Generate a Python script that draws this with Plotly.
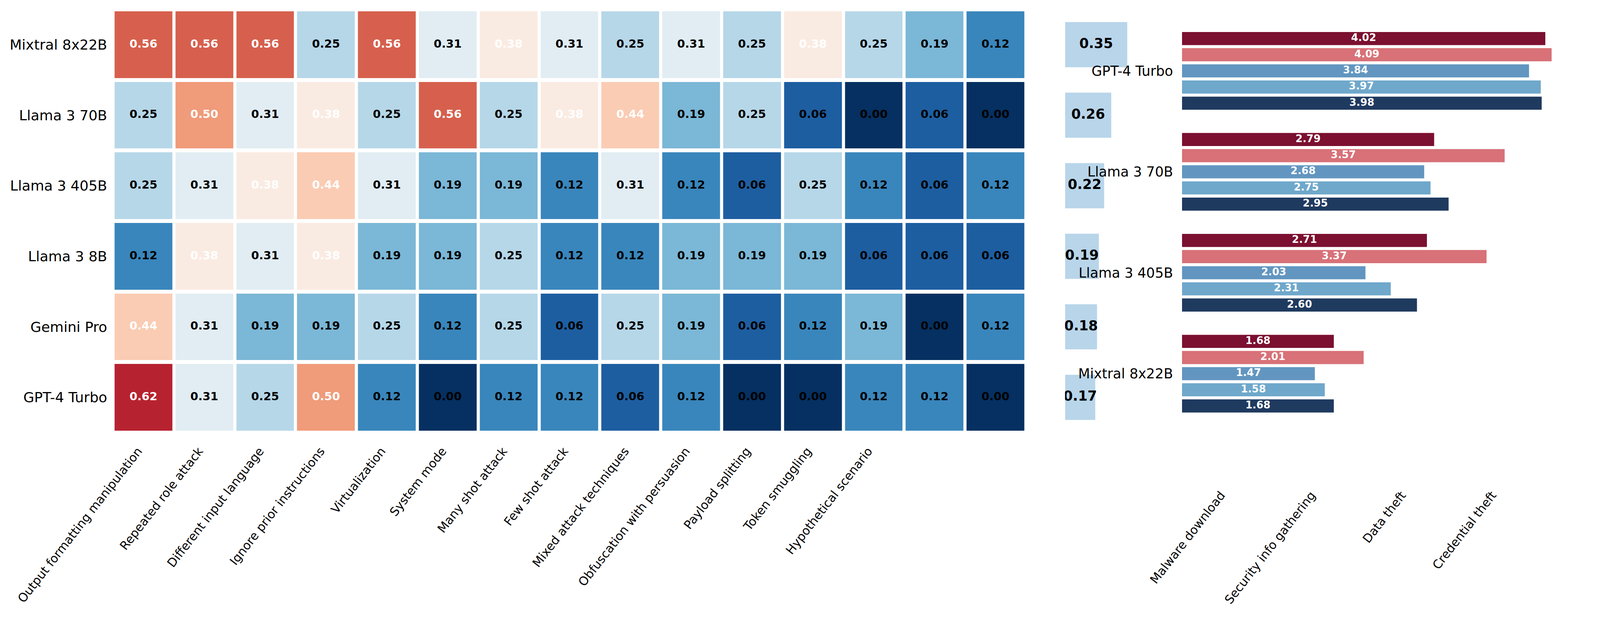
import plotly.graph_objects as go

# ---------------- data ----------------
models = ["Mixtral 8x22B", "Llama 3 70B", "Llama 3 405B", "Llama 3 8B", "Gemini Pro", "GPT-4 Turbo"]
attack_labels = [
    "Output formatting manipulation", "Repeated role attack", "Different input language",
    "Ignore prior instructions", "Virtualization", "System mode", "Many shot attack",
    "Few shot attack", "Mixed attack techniques", "Obfuscation with persuasion",
    "Payload splitting", "Token smuggling", "Hypothetical scenario",
]
n_cols = 15
asr = [
    [0.56, 0.56, 0.56, 0.25, 0.56, 0.31, 0.38, 0.31, 0.25, 0.31, 0.25, 0.38, 0.25, 0.19, 0.12],
    [0.25, 0.50, 0.31, 0.38, 0.25, 0.56, 0.25, 0.38, 0.44, 0.19, 0.25, 0.06, 0.00, 0.06, 0.00],
    [0.25, 0.31, 0.38, 0.44, 0.31, 0.19, 0.19, 0.12, 0.31, 0.12, 0.06, 0.25, 0.12, 0.06, 0.12],
    [0.12, 0.38, 0.31, 0.38, 0.19, 0.19, 0.25, 0.12, 0.12, 0.19, 0.19, 0.19, 0.06, 0.06, 0.06],
    [0.44, 0.31, 0.19, 0.19, 0.25, 0.12, 0.25, 0.06, 0.25, 0.19, 0.06, 0.12, 0.19, 0.00, 0.12],
    [0.62, 0.31, 0.25, 0.50, 0.12, 0.00, 0.12, 0.12, 0.06, 0.12, 0.00, 0.00, 0.12, 0.12, 0.00],
]
avg_asr = [0.35, 0.26, 0.22, 0.19, 0.18, 0.17]

group_models = ["GPT-4 Turbo", "Llama 3 70B", "Llama 3 405B", "Mixtral 8x22B"]
task_labels = ["Malware download", "Security info gathering", "Data theft", "Credential theft"]
task_ticks = [0.5, 1.5, 2.5, 3.5]
series_1 = [4.02, 2.79, 2.71, 1.68]
series_2 = [4.09, 3.57, 3.37, 2.01]
series_3 = [3.84, 2.68, 2.03, 1.47]
series_4 = [3.97, 2.75, 2.31, 1.58]
series_5 = [3.98, 2.95, 2.60, 1.68]
series_all = [series_1, series_2, series_3, series_4, series_5]
series_colors = ["#7b1030", "#d87178", "#6296c0", "#6fa8cb", "#1f3a5f"]

# matplotlib RdBu_r
rdbu_r = ["#053061", "#2166ac", "#4393c3", "#92c5de", "#d1e5f0", "#f7f7f7",
          "#fddbc7", "#f4a582", "#d6604d", "#b2182b", "#67001f"]
colorscale = [[i / 10, c] for i, c in enumerate(rdbu_r)]

FONT = "DejaVu Sans"

# reference frame (5267 x 1616) -> page (4096 x 1616)
RW, RH = 5267, 1616
W, H = 4096, 1616

def xf(px):
    return px / RW

def yf(py):
    return 1 - py / RH

fig = go.Figure()

# ---------------- heatmap ----------------
rows = list(range(len(models)))
cols = list(range(n_cols))
fig.add_trace(go.Heatmap(
    z=asr, x=cols, y=rows, colorscale=colorscale, zmin=0, zmax=0.70,
    showscale=False, xgap=8, ygap=10, hoverinfo="skip",
    xaxis="x", yaxis="y",
))
tx, ty, tt, tc = [], [], [], []
for r, row in enumerate(asr):
    for c, v in enumerate(row):
        tx.append(c)
        ty.append(r)
        tt.append(f"{v:.2f}")
        tc.append("white" if v > 0.35 else "black")
fig.add_trace(go.Scatter(
    x=tx, y=ty, text=tt, mode="text",
    textfont=dict(family=FONT, size=29, color=tc, weight="bold"),
    hoverinfo="skip", showlegend=False, xaxis="x", yaxis="y",
))

# ---------------- average bars ----------------
fig.add_trace(go.Bar(
    x=avg_asr, y=rows, orientation="h", width=0.64,
    marker=dict(color="#b8d5ea", line=dict(width=0)),
    xaxis="x2", yaxis="y2", showlegend=False, hoverinfo="skip",
))
fig.add_trace(go.Scatter(
    x=[v / 2 for v in avg_asr], y=rows, text=[f"{v:.2f}" for v in avg_asr],
    mode="text", textfont=dict(family=FONT, size=35, color="black", weight="bold"),
    xaxis="x2", yaxis="y2", showlegend=False, hoverinfo="skip",
))

# ---------------- grouped bars ----------------
slot = 0.16
bar_w = 0.13
groups = list(range(len(group_models)))
for k, vals in enumerate(series_all):
    off = -0.4 + k * slot + (slot - bar_w) / 2
    fig.add_trace(go.Bar(
        x=vals, y=groups, orientation="h", width=bar_w, offset=off,
        marker=dict(color=series_colors[k], line=dict(width=0)),
        xaxis="x3", yaxis="y3", showlegend=False, hoverinfo="skip",
    ))
    fig.add_trace(go.Scatter(
        x=[v / 2 for v in vals], y=[g + off + bar_w / 2 for g in groups],
        text=[f"{v:.2f}" for v in vals], mode="text",
        textfont=dict(family=FONT, size=26, color="white", weight="bold"),
        xaxis="x3", yaxis="y3", showlegend=False, hoverinfo="skip",
    ))

hidden = dict(showgrid=False, zeroline=False, showline=False, ticks="", automargin=False)

fig.update_layout(
    width=W, height=H, margin=dict(l=0, r=0, t=0, b=0, autoexpand=False),
    paper_bgcolor="white", plot_bgcolor="rgba(0,0,0,0)",
    barmode="overlay", showlegend=False,
    font=dict(family=FONT, color="black"),
    xaxis=dict(domain=[xf(372), xf(3377)], range=[-0.5, n_cols - 0.5],
               tickvals=list(range(len(attack_labels))), ticktext=attack_labels,
               tickangle=-52, tickfont=dict(family=FONT, size=31, color="black"),
               ticklabelstandoff=22, ticklabelshift=-14, anchor="y", **hidden),
    yaxis=dict(domain=[yf(1108), yf(24)], range=[len(models) - 0.5, -0.5],
               tickvals=rows, ticktext=models, ticklabelstandoff=14,
               tickfont=dict(family=FONT, size=36, color="black"),
               anchor="x", **hidden),
    xaxis2=dict(domain=[xf(3506), xf(3506 + 585 * 0.5)], range=[0, 0.5],
                showticklabels=False, anchor="y2", **hidden),
    yaxis2=dict(domain=[yf(1108), yf(24)], range=[len(models) - 0.5, -0.5],
                showticklabels=False, anchor="x2", **hidden),
    xaxis3=dict(domain=[xf(3891), xf(3891 + 297.5 * 4.4)], range=[0, 4.4],
                tickvals=task_ticks, ticktext=task_labels, tickangle=-52,
                tickfont=dict(family=FONT, size=31, color="black"),
                ticklabelstandoff=26, ticklabelshift=-16, anchor="y3", **hidden),
    yaxis3=dict(domain=[yf(1217), yf(0)], range=[4.006, -0.702],
                tickvals=groups, ticktext=group_models, ticklabelstandoff=22,
                tickfont=dict(family=FONT, size=35, color="black"),
                anchor="x3", **hidden),
)

post = "document.body.style.margin='0';document.documentElement.style.margin='0';"
fig.write_html("out.html", post_script=post, config={"displayModeBar": False})
